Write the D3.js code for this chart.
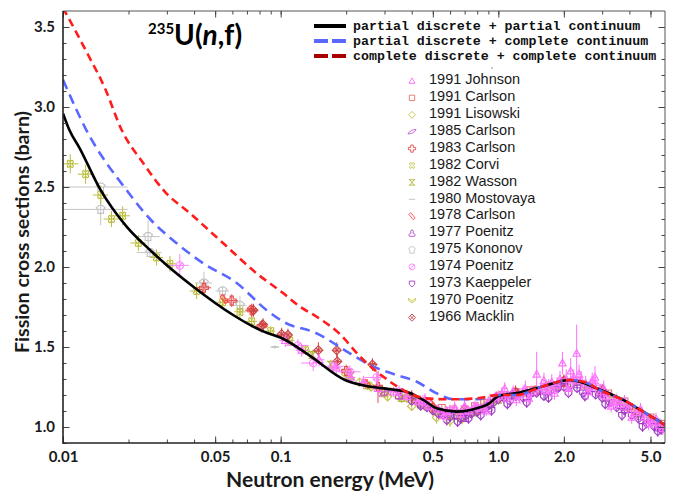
<!DOCTYPE html>
<html><head><meta charset="utf-8">
<script src="https://cdn.jsdelivr.net/npm/d3@7"></script>
<style>body{margin:0;background:#fff}svg{display:block}</style>
</head><body><svg id="c" width="683" height="491"></svg>
<script>
// ---------------- data ----------------
const xTickValues = [0.01, 0.05, 0.1, 0.5, 1.0, 2.0, 5.0];
const xTickLabels = ["0.01", "0.05", "0.1", "0.5", "1.0", "2.0", "5.0"];
const yTickValues = [1.0, 1.5, 2.0, 2.5, 3.0, 3.5];
const yTickLabels = ["1.0", "1.5", "2.0", "2.5", "3.0", "3.5"];

const curveLabels = ["partial discrete + partial continuum",
                     "partial discrete + complete continuum",
                     "complete discrete + complete continuum"];
// partial discrete + partial continuum  [E (MeV), sigma (b)]
const curvePartialPartial = [[0.01,2.96],[0.0107,2.856],[0.0119,2.745],[0.0149,2.48],[0.0196,2.252],[0.0251,2.106],
  [0.0299,2.013],[0.0397,1.877],[0.0605,1.70],[0.0723,1.638],[0.0832,1.598],[0.101,1.556],[0.1364,1.445],[0.1975,1.294],
  [0.248,1.256],[0.318,1.236],[0.379,1.22],[0.452,1.169],[0.521,1.117],[0.644,1.096],[0.796,1.117],[0.916,1.152],
  [0.96,1.176],[1.0,1.194],[1.1,1.204],[1.215,1.212],[1.555,1.248],[2.13,1.294],[2.37,1.283],[2.83,1.242],[3.75,1.169],
  [4.63,1.096],[5.83,1.013]];
// partial discrete + complete continuum
const curvePartialComplete = [[0.01,3.17],[0.0128,2.856],[0.0196,2.48],[0.0251,2.30],[0.0333,2.148],[0.0441,2.023],
  [0.0628,1.90],[0.0863,1.73],[0.1028,1.658],[0.146,1.586],[0.208,1.46],[0.2666,1.377],[0.341,1.325],[0.422,1.283],
  [0.521,1.21],[0.621,1.173],[0.796,1.173],[1.0,1.200],[1.215,1.20],[1.556,1.248],[2.13,1.294],[2.46,1.283],
  [3.03,1.22],[3.75,1.169],[4.63,1.096],[5.5,1.033],[5.83,1.01]];
// complete discrete + complete continuum
const curveCompleteComplete = [[0.01,3.62],[0.01305,3.325],[0.01559,3.117],[0.0186,2.856],[0.0234,2.648],[0.0294,2.47],
  [0.0383,2.336],[0.0545,2.148],[0.0776,1.96],[0.1028,1.836],[0.1227,1.752],[0.1464,1.689],[0.1873,1.58],
  [0.2315,1.44],[0.2963,1.314],[0.366,1.231],[0.469,1.179],[0.600,1.173],[0.796,1.179],[1.0,1.200],[1.215,1.20],
  [1.556,1.248],[2.13,1.294],[2.46,1.283],[3.03,1.22],[3.75,1.169],[4.63,1.096],[5.5,1.033],[5.83,1.01]];

// experimental data: [E (MeV), sigma (b), d sigma (b), relative dE]
const johnson1991 = [[0.105,1.54,0.04,0.06],[0.125,1.48,0.04,0.06],[0.15,1.42,0.04,0.06],[0.18,1.37,0.04,0.05],
  [0.21,1.31,0.04,0.05],[0.24,1.28,0.04,0.05],[0.28,1.24,0.04,0.05],[0.33,1.22,0.03,0.04],[0.38,1.19,0.03,0.04],
  [0.43,1.16,0.03,0.04],[0.48,1.13,0.03,0.04],[0.53,1.11,0.03,0.04],[0.58,1.10,0.03,0.04],[0.63,1.12,0.04,0.04],
  [0.67,1.08,0.03,0.04],[0.73,1.10,0.03,0.04],[0.78,1.13,0.03,0.04],[0.84,1.12,0.03,0.03],[0.9,1.16,0.03,0.03],
  [0.97,1.19,0.03,0.03],[1.04,1.21,0.04,0.03],[1.1,1.18,0.03,0.03],[1.17,1.22,0.04,0.03],[1.25,1.20,0.04,0.03],
  [1.33,1.24,0.05,0.03],[1.42,1.22,0.04,0.03],[1.5,1.33,0.14,0.02],[1.58,1.25,0.05,0.03],[1.67,1.23,0.04,0.03],
  [1.76,1.28,0.05,0.03],[1.86,1.26,0.05,0.03],[1.97,1.40,0.07,0.02],[2.05,1.30,0.06,0.02],[2.15,1.35,0.08,0.02],
  [2.29,1.46,0.18,0.02],[2.4,1.29,0.06,0.02],[2.52,1.27,0.05,0.02],[2.65,1.25,0.05,0.02],[2.78,1.31,0.07,0.02],
  [2.95,1.22,0.05,0.02],[3.15,1.19,0.04,0.02],[3.4,1.16,0.04,0.02],[3.65,1.14,0.04,0.02],[3.95,1.12,0.04,0.02],
  [4.3,1.09,0.04,0.02],[4.7,1.06,0.04,0.02],[5.1,1.03,0.04,0.02],[5.5,1.01,0.04,0.02],
  [0.46,1.17,0.04,0.04],[0.56,1.07,0.04,0.04],[0.7,1.13,0.04,0.04],[0.88,1.10,0.03,0.03],[1.07,1.24,0.04,0.03],
  [1.21,1.17,0.04,0.03],[1.38,1.18,0.04,0.03],[1.62,1.29,0.05,0.03],[1.81,1.21,0.04,0.03],[1.92,1.30,0.05,0.02],
  [2.1,1.24,0.05,0.02],[2.22,1.31,0.05,0.02],[2.35,1.33,0.06,0.02],[2.58,1.22,0.05,0.02],[2.7,1.29,0.05,0.02],
  [3.05,1.24,0.05,0.02],[3.3,1.13,0.04,0.02],[3.8,1.16,0.04,0.02],[4.1,1.06,0.04,0.02],[4.5,1.11,0.04,0.02],
  [4.9,1.02,0.04,0.02],[5.3,1.05,0.04,0.02],[5.7,0.99,0.04,0.02]];
const carlson1991 = [[0.3,1.22,0.02],[0.36,1.20,0.02],[0.42,1.17,0.02],[0.48,1.14,0.02],[0.55,1.12,0.02],
  [0.62,1.11,0.02],[0.7,1.11,0.02],[0.78,1.13,0.02],[0.86,1.15,0.02],[0.95,1.18,0.02],[1.05,1.20,0.02],[1.2,1.22,0.02],
  [1.4,1.23,0.02],[1.7,1.26,0.02],[2.0,1.28,0.02],[2.3,1.29,0.02],[2.7,1.26,0.02],[3.2,1.21,0.02],[3.8,1.16,0.02],
  [4.4,1.10,0.02],[5.0,1.06,0.02],[5.6,1.02,0.02]];
const lisowski1991 = [[0.2,1.33,0.02],[0.23,1.28,0.02],[0.26,1.25,0.02],[0.29,1.23,0.02],[0.32,1.22,0.02],
  [0.35,1.19,0.02],[0.38,1.18,0.02],[0.42,1.16,0.02],[0.46,1.13,0.02],[0.5,1.11,0.02],[0.54,1.09,0.02],[0.58,1.08,0.02],
  [0.62,1.07,0.03],[0.66,1.08,0.02],[0.7,1.08,0.02],[0.75,1.09,0.02],[0.8,1.10,0.02],[0.86,1.12,0.02],[0.92,1.14,0.02],
  [0.98,1.17,0.02],[1.05,1.19,0.02],[1.15,1.20,0.02],[1.3,1.21,0.02],[1.5,1.22,0.02],[1.7,1.24,0.02],[1.9,1.26,0.02],
  [2.2,1.27,0.02],[2.5,1.26,0.02],[2.9,1.22,0.02],[3.3,1.17,0.02],[3.8,1.13,0.02],[4.4,1.08,0.02],[5.0,1.04,0.02],
  [5.6,1.00,0.02],[0.31,1.19,0.03],[0.4,1.13,0.03],[0.52,1.06,0.04],[0.6,1.04,0.04],[0.68,1.05,0.03],[0.78,1.12,0.03]];
const carlson1985 = [[0.3,1.21,0.02],[0.45,1.14,0.02],[0.62,1.09,0.02],[0.78,1.10,0.02],[0.95,1.16,0.02],
  [1.1,1.20,0.02],[1.3,1.21,0.02],[1.6,1.22,0.02],[2.0,1.28,0.02],[2.5,1.26,0.02],[3.1,1.20,0.02],[3.9,1.12,0.02],
  [4.9,1.04,0.02],[5.7,0.99,0.02]];
const carlson1983 = [[0.0444,1.87,0.05,0.08],[0.0596,1.79,0.04,0.07],[0.0736,1.73,0.04,0.07],[0.0818,1.63,0.04,0.07],
  [0.2,1.35,0.04,0.05],[0.28,1.25,0.10,0.04],[0.5,1.12,0.03],[0.8,1.11,0.03],[1.2,1.21,0.03],[2.0,1.28,0.03],
  [3.0,1.22,0.03],[4.2,1.10,0.03]];
const corvi1982 = [[0.0108,2.645,0.06,0.09],[0.0127,2.58,0.06,0.08],[0.0149,2.45,0.06,0.08],[0.0167,2.30,0.05,0.08],
  [0.0188,2.32,0.06,0.08],[0.0222,2.15,0.05,0.08],[0.0269,2.06,0.05,0.07],[0.031,2.02,0.05,0.07],[0.0411,1.85,0.05,0.07],
  [0.0541,1.78,0.04,0.06],[0.065,1.72,0.04,0.06],[0.0736,1.66,0.04,0.06],[0.09,1.60,0.03,0.05],[0.11,1.54,0.03,0.05],
  [0.13,1.48,0.03,0.05]];
const wasson1982 = [[0.14,1.45,0.03],[0.17,1.39,0.03],[0.21,1.32,0.03],[0.25,1.26,0.03],[0.3,1.21,0.03],
  [0.36,1.18,0.03],[0.44,1.14,0.03],[0.52,1.10,0.03],[0.6,1.07,0.04],[0.68,1.06,0.04],[0.76,1.09,0.03],
  [0.87,1.12,0.03],[1.0,1.17,0.03]];
const mostovaya1980 = [[0.094,1.50,0.01,0.03],[0.5,1.13,0.02],[1.5,1.22,0.02],[2.5,1.28,0.02]];
const carlson1978 = [[0.055,1.80,0.03],[0.0736,1.73,0.04],[0.25,1.27,0.03],[0.5,1.14,0.02],[1.0,1.19,0.02],
  [1.5,1.23,0.02],[3.5,1.17,0.02],[5.3,1.03,0.02]];
const poenitz1977 = [[0.35,1.20,0.03],[0.55,1.09,0.03],[0.7,1.06,0.03],[0.9,1.12,0.03],[1.15,1.20,0.03],
  [1.45,1.22,0.03],[1.85,1.25,0.03],[2.3,1.27,0.03],[2.9,1.22,0.03],[3.6,1.14,0.03],[4.5,1.07,0.03],[5.4,1.00,0.03]];
const kononov1975 = [[0.0149,2.50,0.0,0.33],[0.0149,2.36,0.10,0.33],[0.0246,2.19,0.10,0.13],[0.0251,2.09,0.02,0.13],
  [0.0444,1.90,0.07,0.09],[0.0541,1.85,0.03,0.07],[0.065,1.76,0.06,0.07],[3.2,1.19,0.02],[4.0,1.12,0.02],
  [4.8,1.06,0.02],[5.4,1.03,0.02],[5.8,1.00,0.02]];
const poenitz1974 = [[0.0344,2.01,0.07,0.10],[0.12,1.51,0.04,0.12],[0.141,1.40,0.05,0.12],[0.174,1.38,0.04,0.12],
  [0.208,1.345,0.04,0.12],[0.276,1.31,0.04,0.12],[0.35,1.22,0.04,0.10],[0.45,1.16,0.04,0.10],[0.6,1.10,0.04,0.08],
  [0.8,1.12,0.04,0.08],[1.0,1.19,0.04,0.06],[1.3,1.22,0.04,0.05],[1.7,1.25,0.05,0.05],[2.2,1.29,0.05,0.04],
  [2.8,1.26,0.05,0.04],[3.5,1.16,0.05,0.04]];
const kaeppeler1973 = [[0.4,1.16,0.02],[0.44,1.13,0.02],[0.47,1.12,0.02],[0.5,1.10,0.02],[0.53,1.08,0.02],
  [0.56,1.07,0.03],[0.6,1.06,0.02],[0.63,1.07,0.02],[0.67,1.05,0.03],[0.71,1.07,0.02],[0.75,1.08,0.02],[0.8,1.09,0.02],
  [0.85,1.11,0.02],[0.9,1.13,0.02],[0.95,1.15,0.02],[1.0,1.17,0.02],[1.06,1.18,0.02],[1.13,1.16,0.02],[1.2,1.19,0.02],
  [1.3,1.18,0.02],[1.4,1.20,0.02],[1.5,1.21,0.02],[1.62,1.19,0.02],[1.75,1.23,0.02],[1.88,1.24,0.02],[2.0,1.25,0.02],
  [2.15,1.26,0.02],[2.3,1.24,0.02],[2.45,1.21,0.02],[2.6,1.23,0.02],[2.8,1.20,0.02],[3.0,1.18,0.02],[3.25,1.15,0.02],
  [3.5,1.12,0.02],[3.8,1.10,0.02],[4.1,1.07,0.02],[4.4,1.05,0.02],[4.8,1.02,0.02],[5.2,1.00,0.02],[5.6,0.98,0.02],
  [0.58,1.04,0.03],[0.65,1.03,0.03],[0.73,1.05,0.03],[0.83,1.07,0.03],[0.93,1.10,0.03],[1.1,1.14,0.03],
  [1.35,1.15,0.03],[1.7,1.18,0.03],[2.1,1.21,0.03],[2.5,1.19,0.03],[3.1,1.14,0.03],[3.7,1.07,0.03],[4.6,1.00,0.03],
  [5.4,0.97,0.03]];
const poenitz1970 = [[0.4,1.17,0.03],[0.65,1.08,0.03],[0.9,1.14,0.03],[1.3,1.20,0.03],[1.8,1.25,0.03],
  [2.6,1.25,0.03],[3.6,1.15,0.03]];
const macklin1966 = [[0.075,1.73,0.04,0.04],[0.083,1.64,0.04,0.04],[0.101,1.58,0.04,0.04],[0.108,1.575,0.04,0.04],
  [0.149,1.48,0.05,0.05],[0.181,1.48,0.05,0.04],[0.182,1.41,0.05,0.04],[0.264,1.39,0.04,0.04],[0.4,1.19,0.04],
  [0.7,1.11,0.04],[1.2,1.22,0.04],[2.0,1.29,0.04],[3.0,1.23,0.04]];

// ---------------- layout / style ----------------
const SYM = {
  tri: "M0,-3.5L3.3,2.6H-3.3Z",
  square: "M-3,-3H3V3H-3Z",
  diamond: "M0,-3.8L3.8,0L0,3.8L-3.8,0Z",
  leaf: "M-4.5,2.5C-3,-1 1,-2.5 4.5,-2.5C3,1 -1,2.5 -4.5,2.5Z",
  plus: "M-1.4,-4H1.4V-1.4H4V1.4H1.4V4H-1.4V1.4H-4V-1.4H-1.4Z",
  clover: "M0,-1.5C1,-4.5 4.5,-3 1.5,0C4.5,3 1,4.5 0,1.5C-1,4.5 -4.5,3 -1.5,0C-4.5,-3 -1,-4.5 0,-1.5Z",
  hourglass: "M-3.5,-3H3.5M-3.5,3H3.5M-2.5,-3L2.5,3M2.5,-3L-2.5,3",
  dash: "M-4,0H4",
  rect45: "M-3.5,-2L-1.5,-4L3.5,2L1.5,4Z",
  tri3: "M0,-3.5C2,-3.5 1.5,-1 1,0C3,0 4,2 3,3.5H-3C-4,2 -3,0 -1,0C-1.5,-1 -2,-3.5 0,-3.5Z",
  shirt: "M-1.5,-3.5H1.5L4,-1.5L2.5,0V3.5H-2.5V0L-4,-1.5Z",
  circslash: "M3.3,0A3.3,3.3 0 1,1 -3.3,0A3.3,3.3 0 1,1 3.3,0ZM-2.3,2.3L2.3,-2.3",
  shield: "M-3,-3H3V0.5L0,3.5L-3,0.5Z",
  chevron: "M-4,-2.5L0,0.5L4,-2.5L4,-0.5L0,2.5L-4,-0.5Z",
  diacross: "M0,-4L4,0L0,4L-4,0ZM-2,-2L2,2M2,-2L-2,2"
};
const series = [
  {name: "1991 Johnson",   pts: johnson1991,   color: "#ff6eff", sym: "tri"},
  {name: "1991 Carlson",   pts: carlson1991,   color: "#e87272", sym: "square"},
  {name: "1991 Lisowski",  pts: lisowski1991,  color: "#c4c44e", sym: "diamond"},
  {name: "1985 Carlson",   pts: carlson1985,   color: "#c45ad6", sym: "leaf"},
  {name: "1983 Carlson",   pts: carlson1983,   color: "#e45050", sym: "plus"},
  {name: "1982 Corvi",     pts: corvi1982,     color: "#bcbc3c", sym: "clover"},
  {name: "1982 Wasson",    pts: wasson1982,    color: "#b4b43c", sym: "hourglass"},
  {name: "1980 Mostovaya", pts: mostovaya1980, color: "#bdbdbd", sym: "dash"},
  {name: "1978 Carlson",   pts: carlson1978,   color: "#ff4a4a", sym: "rect45"},
  {name: "1977 Poenitz",   pts: poenitz1977,   color: "#b04ccc", sym: "tri3"},
  {name: "1975 Kononov",   pts: kononov1975,   color: "#c4c4c4", sym: "shirt"},
  {name: "1974 Poenitz",   pts: poenitz1974,   color: "#ff80ff", sym: "circslash"},
  {name: "1973 Kaeppeler", pts: kaeppeler1973, color: "#a03cc4", sym: "shield"},
  {name: "1970 Poenitz",   pts: poenitz1970,   color: "#c4c44a", sym: "chevron"},
  {name: "1966 Macklin",   pts: macklin1966,   color: "#cc4444", sym: "diacross"}
];
const drawOrder = [10, 7, 5, 6, 2, 13, 1, 4, 8, 14, 3, 9, 12, 11, 0];

const svg = d3.select("#c");
const X0 = 63, X1 = 665, Y0 = 11, Y1 = 443;
const x = d3.scaleLog().domain([0.01, 5.83]).range([X0, X1]);
const y = d3.scaleLinear().domain([0.9, 3.6]).range([Y1, Y0]);

svg.append("defs").append("clipPath").attr("id", "clip")
  .append("rect").attr("x", X0).attr("y", Y0).attr("width", X1 - X0).attr("height", Y1 - Y0);

const plot = svg.append("g").attr("clip-path", "url(#clip)");

// experimental points
drawOrder.forEach(si => {
  const s = series[si];
  const g = plot.append("g").attr("stroke", s.color).attr("fill", "none").attr("stroke-width", 1);
  s.pts.forEach(p => {
    const [E, v, dv, fe] = p;
    if (dv > 0) g.append("line").attr("x1", x(E)).attr("x2", x(E)).attr("y1", y(v - dv)).attr("y2", y(v + dv));
    if (fe) g.append("line").attr("x1", x(E * (1 - fe))).attr("x2", x(E * (1 + fe))).attr("y1", y(v)).attr("y2", y(v));
    g.append("path").attr("d", SYM[s.sym]).attr("transform", `translate(${x(E)},${y(v)}) scale(1.12)`);
  });
});

// model curves
const line = d3.line().x(d => x(d[0])).y(d => y(d[1])).curve(d3.curveMonotoneX);
plot.append("path").datum(curvePartialPartial).attr("d", line)
  .attr("fill", "none").attr("stroke", "#000").attr("stroke-width", 2.6);
plot.append("path").datum(curvePartialComplete).attr("d", line)
  .attr("fill", "none").attr("stroke", "#5a68ff").attr("stroke-width", 2.6).attr("stroke-dasharray", "10,6");
plot.append("path").datum(curveCompleteComplete).attr("d", line)
  .attr("fill", "none").attr("stroke", "#ff1c1c").attr("stroke-width", 2.6).attr("stroke-dasharray", "8,5");

// ---------------- axes ----------------
const minorX = [];
[0.01, 0.1, 1].forEach(d => { for (let m = 1; m <= 9; m++) { const v = d * m; if (v <= 5.83) minorX.push(+v.toPrecision(3)); } });
const minorY = d3.range(9, 36).map(i => i / 10);

function styleAxis(g) {
  g.select(".domain").remove();
  g.selectAll("line").attr("stroke", "#444").attr("stroke-width", 1);
  g.selectAll("text").attr("font-family", "Lato, 'Open Sans', sans-serif").attr("font-weight", "bold")
    .attr("font-size", 15).attr("fill", "#1a1a1a");
}
svg.append("g").attr("transform", `translate(0,${Y1})`).call(d3.axisBottom(x).tickValues(minorX).tickSize(-3.5).tickFormat("")).call(styleAxis);
svg.append("g").attr("transform", `translate(0,${Y1})`).call(d3.axisBottom(x).tickValues(xTickValues).tickSize(-6.5).tickPadding(8)
  .tickFormat((d, i) => xTickLabels[i])).call(styleAxis);
svg.append("g").attr("transform", `translate(0,${Y0})`).call(d3.axisTop(x).tickValues(minorX).tickSize(-3.5).tickFormat("")).call(styleAxis);
svg.append("g").attr("transform", `translate(0,${Y0})`).call(d3.axisTop(x).tickValues(xTickValues).tickSize(-6.5).tickFormat("")).call(styleAxis);
svg.append("g").attr("transform", `translate(${X0},0)`).call(d3.axisLeft(y).tickValues(minorY).tickSize(-3.5).tickFormat("")).call(styleAxis);
svg.append("g").attr("transform", `translate(${X0},0)`).call(d3.axisLeft(y).tickValues(yTickValues).tickSize(-6.5).tickPadding(8)
  .tickFormat((d, i) => yTickLabels[i])).call(styleAxis);
svg.append("g").attr("transform", `translate(${X1},0)`).call(d3.axisRight(y).tickValues(minorY).tickSize(-3.5).tickFormat("")).call(styleAxis);
svg.append("g").attr("transform", `translate(${X1},0)`).call(d3.axisRight(y).tickValues(yTickValues).tickSize(-6.5).tickFormat("")).call(styleAxis);

// frame
svg.append("line").attr("x1", X0).attr("x2", X1).attr("y1", Y0).attr("y2", Y0).attr("stroke", "#555").attr("stroke-width", 1);
svg.append("line").attr("x1", X1).attr("x2", X1).attr("y1", Y0).attr("y2", Y1).attr("stroke", "#555").attr("stroke-width", 1);
svg.append("line").attr("x1", X0).attr("x2", X0).attr("y1", Y0).attr("y2", Y1).attr("stroke", "#222").attr("stroke-width", 1.6);
svg.append("line").attr("x1", X0 - 0.8).attr("x2", X1).attr("y1", Y1).attr("y2", Y1).attr("stroke", "#222").attr("stroke-width", 1.6);

// axis titles
svg.append("text").attr("x", 330).attr("y", 487).attr("text-anchor", "middle")
  .attr("font-family", "Lato, 'Open Sans', sans-serif").attr("font-weight", "bold").attr("font-size", 20)
  .attr("fill", "#1a1a1a").attr("textLength", 208).attr("lengthAdjust", "spacingAndGlyphs").text("Neutron energy (MeV)");
svg.append("text").attr("transform", "translate(29,232) rotate(-90)").attr("text-anchor", "middle")
  .attr("font-family", "Lato, 'Open Sans', sans-serif").attr("font-weight", "bold").attr("font-size", 19)
  .attr("fill", "#1a1a1a").attr("textLength", 242).attr("lengthAdjust", "spacingAndGlyphs").text("Fission cross sections (barn)");

// title
const t = svg.append("text").attr("x", 148).attr("y", 45)
  .attr("font-family", "Lato, 'Open Sans', sans-serif").attr("font-weight", "bold").attr("fill", "#000");
t.append("tspan").attr("font-size", 15).attr("dy", -11).text("235");
t.append("tspan").attr("font-size", 28).attr("dy", 11).text("U(");
t.append("tspan").attr("font-size", 28).attr("font-style", "italic").text("n");
t.append("tspan").attr("font-size", 28).text(",f)");

// legend: curves
const curveStyles = [
  {stroke: "#000", dash: null},
  {stroke: "#5a68ff", dash: "14,4"},
  {stroke: "#a80000", dash: "14,4"}
];
curveLabels.forEach((lab, i) => {
  const yy = 26 + i * 15;
  svg.append("line").attr("x1", 314).attr("x2", 346).attr("y1", yy).attr("y2", yy)
    .attr("stroke", curveStyles[i].stroke).attr("stroke-width", 4).attr("stroke-dasharray", curveStyles[i].dash);
  svg.append("text").attr("x", 353).attr("y", yy).attr("dy", "0.33em")
    .attr("font-family", "'Liberation Mono', 'DejaVu Sans Mono', monospace").attr("font-weight", "bold")
    .attr("font-size", 13.3).attr("fill", "#111").text(lab);
});
svg.append("circle").attr("cx", 492).attr("cy", 68).attr("r", 0.8).attr("fill", "#888");

// legend: experiments
series.forEach((s, i) => {
  const yy = 79 + i * 16.9;
  svg.append("path").attr("d", s.sym === "dash" ? "M-3.5,0H3.5" : SYM[s.sym])
    .attr("transform", `translate(412,${yy + 2}) scale(0.9)`)
    .attr("fill", "none").attr("stroke", s.color).attr("stroke-width", 1);
  svg.append("text").attr("x", 429).attr("y", yy).attr("dy", "0.36em")
    .attr("font-family", "'Liberation Sans', Arial, sans-serif").attr("font-size", 14.5).attr("fill", "#1a1a1a").text(s.name);
});
</script>
</body></html>
